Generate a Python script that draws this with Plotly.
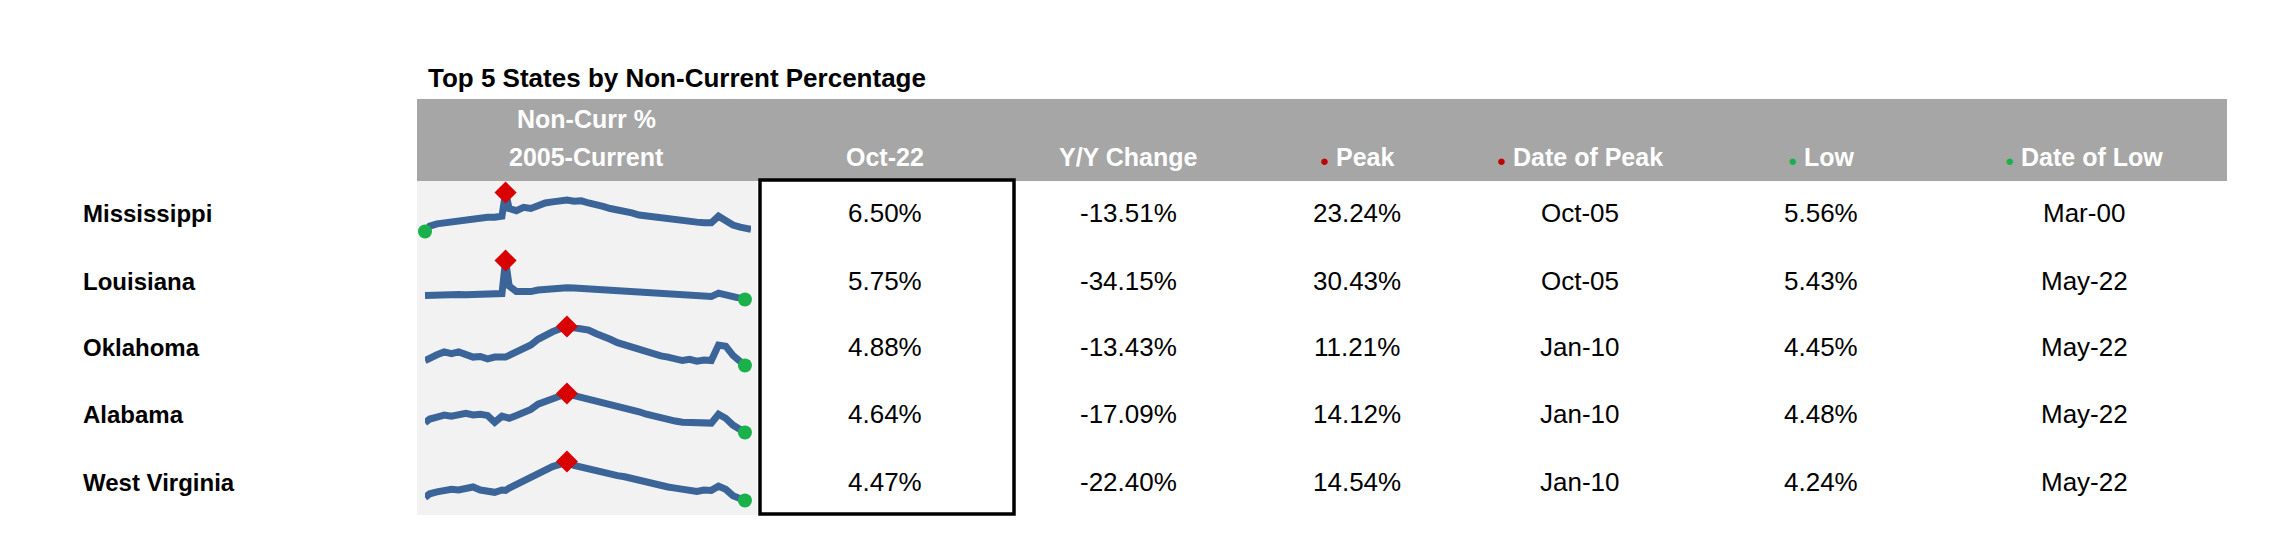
import plotly.graph_objects as go

W, H = 2292, 550
states = ["Mississippi", "Louisiana", "Oklahoma", "Alabama", "West Virginia"]
oct22 = ["6.50%", "5.75%", "4.88%", "4.64%", "4.47%"]
yy_change = ["-13.51%", "-34.15%", "-13.43%", "-17.09%", "-22.40%"]
peak = ["23.24%", "30.43%", "11.21%", "14.12%", "14.54%"]
date_peak = ["Oct-05", "Oct-05", "Jan-10", "Jan-10", "Jan-10"]
low = ["5.56%", "5.43%", "4.45%", "4.48%", "4.24%"]
date_low = ["Mar-00", "May-22", "May-22", "May-22", "May-22"]

years = [2000.17, 2000.5, 2001, 2001.5, 2002, 2002.5, 2003, 2003.5, 2004, 2004.5, 2005, 2005.5,
         2005.75, 2006, 2006.5, 2007, 2007.5, 2008, 2008.5, 2009, 2009.5, 2010,
         2010.5, 2011, 2011.5, 2012, 2012.5, 2013, 2013.5, 2014, 2014.5, 2015,
         2015.5, 2016, 2016.5, 2017, 2017.5, 2018, 2018.5, 2019, 2019.5, 2020,
         2020.5, 2021, 2021.5, 2022, 2022.33, 2022.75]
ms = [5.56, 8, 9, 9.5, 10, 10.5, 11, 11, 11.5, 12, 12, 12.5,
      23.24, 16, 15, 16.5, 16, 17.5, 18.5, 19, 19.5, 19.8,
      19.3, 19.5, 18.5, 18, 17, 16, 15.5, 14.5, 14, 13,
      12.5, 12.2, 11.5, 11, 10.8, 10, 9.8, 9.8, 9.5, 9.5,
      12.5, 10.5, 8.5, 7.5, 7.0, 6.5]
la = [8, 8.2, 8.3, 8.5, 8.5, 8.6, 8.5, 8.8, 8.7, 8.8, 9, 9.2,
      30.43, 14, 10.5, 10, 10.5, 11.5, 12, 12.5, 13, 13,
      12.8, 12.5, 12, 11.8, 11.2, 11, 10.5, 10.3, 10, 9.8,
      9.3, 9.2, 8.8, 8.5, 8.3, 8, 7.8, 7.5, 7.4, 7.3,
      9.5, 8.5, 7, 6.2, 5.43, 5.75]
ok = [5.3, 5.8, 6.3, 6.8, 6.5, 6.8, 6.2, 5.9, 6.0, 5.6, 5.9, 5.8,
      5.9, 6.2, 6.8, 7.5, 8.0, 9.0, 9.8, 10.3, 10.8, 11.21,
      11.0, 10.9, 10.6, 10.0, 9.6, 9.0, 8.4, 8.0, 7.5, 7.2,
      6.8, 6.5, 6.1, 5.9, 5.5, 5.3, 5.5, 5.2, 5.4, 5.3,
      8.0, 7.8, 6.2, 5.3, 4.45, 4.88]
al = [6.9, 7.8, 8.3, 8.8, 8.5, 9.0, 9.2, 8.8, 9.0, 8.7, 7.0, 8.5,
      8.2, 8.0, 8.7, 9.5, 10.2, 11.5, 12.2, 13.0, 13.5, 14.12,
      13.6, 13.2, 12.8, 12.3, 12.0, 11.5, 11.2, 10.5, 10.0, 9.6,
      9.0, 8.5, 8.0, 7.6, 7.3, 7.0, 7.0, 6.8, 7.0, 6.8,
      9.0, 8.0, 6.3, 5.3, 4.48, 4.64]
wv = [5.0, 6.0, 6.5, 6.8, 7.2, 7.0, 7.5, 7.8, 7.0, 6.6, 6.4, 7.0,
      6.9, 7.5, 8.5, 9.5, 10.5, 11.5, 12.5, 13.2, 13.8, 14.54,
      13.5, 13.0, 12.5, 12.0, 11.5, 11.3, 10.8, 10.5, 10.0, 9.5,
      9.0, 8.6, 8.3, 7.8, 7.5, 7.2, 6.9, 6.6, 7.0, 6.9,
      8.0, 7.2, 5.5, 4.8, 4.24, 4.47]
series = [ms, la, ok, al, wv]

FONT = "Liberation Sans Narrow, Arial Narrow, Liberation Sans, Arial"
row_y = [205, 273, 339, 406, 474]
col_x = [877, 1120, 1349, 1572, 1813, 2076]
px = lambda x: x / W
py = lambda y: 1 - y / H

fig = go.Figure()
shapes, ann = [], []
shapes.append(dict(type="rect", xref="paper", yref="paper", x0=px(409), x1=px(2219), y0=py(173), y1=py(91),
                   fillcolor="#a6a6a6", line_width=0, layer="below"))
shapes.append(dict(type="rect", xref="paper", yref="paper", x0=px(409), x1=px(749), y0=py(507), y1=py(173),
                   fillcolor="#f2f2f2", line_width=0, layer="below"))
shapes.append(dict(type="rect", xref="paper", yref="paper", x0=px(752), x1=px(1006), y0=py(506), y1=py(172),
                   fillcolor="rgba(0,0,0,0)", line=dict(color="black", width=3.5)))


def A(x, y, text, size, color="black", anchor="center"):
    return dict(xref="paper", yref="paper", x=px(x), y=py(y), text=text, xanchor=anchor,
                yanchor="middle", showarrow=False, font=dict(size=size, color=color, family=FONT))


for i, (s, vals) in enumerate(zip(states, series)):
    n = i + 1
    xa, ya = ("x" if n == 1 else f"x{n}"), ("y" if n == 1 else f"y{n}")
    lo, hi = min(vals), max(vals)
    pad = (hi - lo) * 0.04
    fig.add_trace(go.Scatter(x=years, y=vals, mode="lines", line=dict(color="#3b6499", width=7),
                             xaxis=xa, yaxis=ya, hoverinfo="skip", showlegend=False, cliponaxis=False))
    ip, il = vals.index(hi), vals.index(lo)
    fig.add_trace(go.Scatter(x=[years[ip]], y=[hi], mode="markers",
                             marker=dict(symbol="diamond", color="#d90000", size=17),
                             xaxis=xa, yaxis=ya, showlegend=False, cliponaxis=False))
    fig.add_trace(go.Scatter(x=[years[il]], y=[lo], mode="markers",
                             marker=dict(symbol="circle", color="#1ab04a", size=14),
                             xaxis=xa, yaxis=ya, showlegend=False, cliponaxis=False))
    c = row_y[i]
    axk = "xaxis" if n == 1 else f"xaxis{n}"
    ayk = "yaxis" if n == 1 else f"yaxis{n}"
    fig.layout[axk] = dict(domain=[px(417), px(743)], range=[2000.17, 2022.75], visible=False, anchor=ya)
    fig.layout[ayk] = dict(domain=[py(c + 20), py(c - 22)], range=[lo - pad, hi + pad], visible=False,
                           anchor=xa)
    ann.append(A(73, c, f"<b>{s}</b>", 24, anchor="left"))
    for cx, col in zip(col_x, [oct22, yy_change, peak, date_peak, low, date_low]):
        ann.append(A(cx, c, col[i], 26))

ann.append(A(418, 70, "<b>Top 5 States by Non-Current Percentage</b>", 26, anchor="left"))
ann.append(A(579, 111, "<b>Non-Curr %</b>", 25, "white"))
red = "<span style='color:#c00000;font-size:15px'>●</span> "
grn = "<span style='color:#1ab04a;font-size:15px'>●</span> "
headers = ["2005-Current", "Oct-22", "Y/Y Change", red + "Peak", red + "Date of Peak", grn + "Low", grn + "Date of Low"]
hx = [579] + col_x
for x, t in zip(hx, headers):
    ann.append(A(x, 149, f"<b>{t}</b>", 25, "white"))

fig.update_layout(width=W, height=H, margin=dict(l=0, r=0, t=0, b=0), paper_bgcolor="white",
                  plot_bgcolor="rgba(0,0,0,0)", shapes=shapes, annotations=ann)
fig.write_html("out.html")
